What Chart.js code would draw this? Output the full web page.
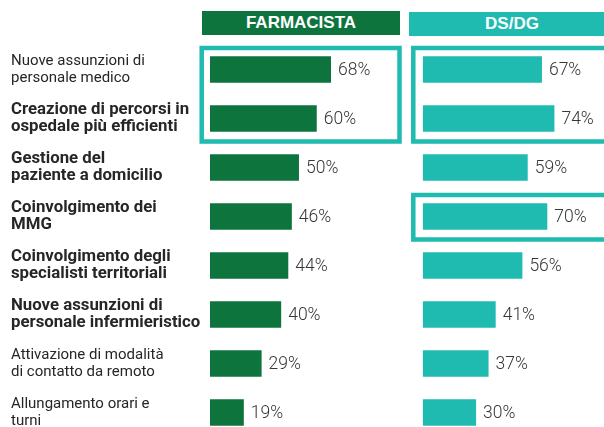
<!DOCTYPE html>
<html>
<head>
<meta charset="utf-8">
<script src="https://cdn.jsdelivr.net/npm/chart.js@4"></script>
<style>
  html, body { margin: 0; padding: 0; width: 604px; height: 427px; overflow: hidden; background: #fff; }
  .head {
    position: absolute; color: #fff; font-family: "Liberation Sans", Arial, sans-serif;
    font-weight: bold; font-size: 17px; text-align: center; line-height: 24px;
  }
  canvas { position: absolute; top: 0; }
</style>
</head>
<body>
<div class="head" style="left:202px; top:11px; width:198px; height:24px; background:#0e743d;">FARMACISTA</div>
<div class="head" style="left:409px; top:12px; width:206px; height:24px; background:#1fbbb0;">DS/DG</div>
<canvas id="farmChart" style="left:0px;"></canvas>
<canvas id="dsChart" style="left:400px;"></canvas>
<script>
// categories (multi-line labels) and which ones are bold
const categories = [
    ['Nuove assunzioni di', 'personale medico'],
    ['Creazione di percorsi in', 'ospedale più efficienti'],
    ['Gestione del', 'paziente a domicilio'],
    ['Coinvolgimento dei', 'MMG'],
    ['Coinvolgimento degli', 'specialisti territoriali'],
    ['Nuove assunzioni di', 'personale infermieristico'],
    ['Attivazione di modalità', 'di contatto da remoto'],
    ['Allungamento orari e', 'turni']
];
const boldRows = [1, 2, 3, 4, 5];

// percentages
const farmacista = [68, 60, 50, 46, 44, 40, 29, 19];
const dsdg = [67, 74, 59, 70, 56, 41, 37, 30];

// rows highlighted with a teal frame
const farmBoxes = [[0, 1]];
const dsBoxes = [[0, 1], [3, 3]];

const GREEN = '#0e743d';
const TEAL = '#1fbbb0';
const FONT = 'Roboto, "Liberation Sans", sans-serif';

// value labels at the end of each bar
const valueLabels = {
    id: 'valueLabels',
    afterDatasetsDraw(chart) {
        const ctx = chart.ctx;
        ctx.save();
        ctx.font = '300 17.5px ' + FONT;
        ctx.fillStyle = '#363636';
        ctx.textBaseline = 'middle';
        chart.getDatasetMeta(0).data.forEach((bar, i) => {
            ctx.fillText(chart.data.datasets[0].data[i] + '%', bar.x + 7, bar.y + 1);
        });
        ctx.restore();
    }
};

// teal frames around selected rows
const frames = {
    id: 'frames',
    afterDraw(chart, args, opts) {
        const ctx = chart.ctx;
        const y = chart.scales.y;
        const area = chart.chartArea;
        ctx.save();
        ctx.strokeStyle = TEAL;
        ctx.lineWidth = 4.5;
        opts.rows.forEach(([a, b]) => {
            const top = y.getPixelForValue(a) - 21.5;
            const bottom = y.getPixelForValue(b) + 23;
            const left = area.left - opts.left;
            const right = area.right + opts.right;
            ctx.strokeRect(left, top, right - left, bottom - top);
        });
        ctx.restore();
    }
};

function makeChart(id, width, data, color, showLabels, boxes, pad, max, boxPad) {
    const canvas = document.getElementById(id);
    canvas.width = width;
    canvas.height = 470;
    canvas.style.width = width + 'px';
    canvas.style.height = '470px';
    return new Chart(canvas.getContext('2d'), {
        type: 'bar',
        data: {
            labels: categories,
            datasets: [{
                data: data,
                backgroundColor: color,
                borderWidth: 0,
                categoryPercentage: 1,
                barPercentage: 0.545
            }]
        },
        options: {
            indexAxis: 'y',
            responsive: false,
            animation: false,
            layout: { padding: pad },
            plugins: {
                legend: { display: false },
                tooltip: { enabled: false },
                frames: { rows: boxes, left: boxPad[0], right: boxPad[1] }
            },
            scales: {
                x: { display: false, min: 0, max: max },
                y: {
                    display: showLabels,
                    grid: { display: false },
                    border: { display: false },
                    afterFit: (scale) => { if (showLabels) scale.width = 199; },
                    ticks: {
                        crossAlign: 'far',
                        color: '#262626',
                        padding: 0,
                        font: (c) => boldRows.includes(c.index)
                            ? { family: FONT, size: 16.8, lineHeight: 1.0, weight: 'bold' }
                            : { family: FONT, size: 15, lineHeight: 1.12, weight: 'normal' }
                    }
                }
            }
        },
        plugins: [valueLabels, frames]
    });
}

makeChart('farmChart', 404, farmacista, GREEN, true, farmBoxes,
    { left: 11, right: 4.5, top: 45, bottom: 33 }, 106.5, [8.3, 0]);
makeChart('dsChart', 204, dsdg, TEAL, false, dsBoxes,
    { left: 22.7, right: 3.3, top: 45, bottom: 33 }, 100, [9.4, 20]);
</script>
</body>
</html>
